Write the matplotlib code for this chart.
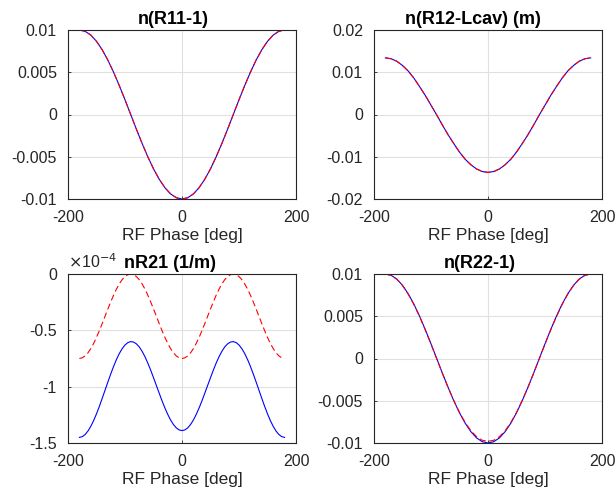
import matplotlib
matplotlib.use("Agg")
import matplotlib.pyplot as plt
from matplotlib.ticker import FuncFormatter

plt.rcParams["font.family"] = ["Liberation Sans", "DejaVu Sans"]
plt.rcParams["axes.unicode_minus"] = False
plt.rcParams["lines.scale_dashes"] = False

# RF phase [deg], sampled every 10 deg
phase = [-180, -170, -160, -150, -140, -130, -120, -110, -100, -90,
         -80, -70, -60, -50, -40, -30, -20, -10, 0,
         10, 20, 30, 40, 50, 60, 70, 80, 90,
         100, 110, 120, 130, 140, 150, 160, 170, 180]

# n(R11-1)
r11_blue = [0.01, 0.00985, 0.0094, 0.00866, 0.00766, 0.00643, 0.005, 0.00342, 0.00174, 0.0,
            -0.00174, -0.00342, -0.005, -0.00643, -0.00766, -0.00866, -0.0094, -0.00985, -0.01,
            -0.00985, -0.0094, -0.00866, -0.00766, -0.00643, -0.005, -0.00342, -0.00174, 0.0,
            0.00174, 0.00342, 0.005, 0.00643, 0.00766, 0.00866, 0.0094, 0.00985, 0.01]
r11_red = [0.01, 0.00985, 0.0094, 0.00866, 0.00766, 0.00643, 0.005, 0.00342, 0.00174, 0.0,
           -0.00174, -0.00342, -0.005, -0.00643, -0.00766, -0.00866, -0.0094, -0.00985, -0.01,
           -0.00985, -0.0094, -0.00866, -0.00766, -0.00643, -0.005, -0.00342, -0.00174, 0.0,
           0.00174, 0.00342, 0.005, 0.00643, 0.00766, 0.00866, 0.0094, 0.00985, 0.01]

# n(R12-Lcav) (m)
r12_blue = [0.0134, 0.0132, 0.0126, 0.0116, 0.0103, 0.0086, 0.0066, 0.0045, 0.0022, -0.0001,
            -0.0025, -0.0048, -0.0069, -0.0089, -0.0106, -0.0119, -0.0129, -0.0135, -0.0137,
            -0.0135, -0.0129, -0.0119, -0.0106, -0.0089, -0.0069, -0.0048, -0.0025, -0.0001,
            0.0022, 0.0045, 0.0066, 0.0086, 0.0103, 0.0116, 0.0126, 0.0132, 0.0134]
r12_red = [0.0134, 0.0132, 0.0126, 0.0116, 0.0103, 0.0086, 0.0066, 0.0045, 0.0022, -0.0001,
           -0.0025, -0.0048, -0.0069, -0.0089, -0.0106, -0.0119, -0.0129, -0.0135, -0.0137,
           -0.0135, -0.0129, -0.0119, -0.0106, -0.0089, -0.0069, -0.0048, -0.0025, -0.0001,
           0.0022, 0.0045, 0.0066, 0.0086, 0.0103, 0.0116, 0.0126, 0.0132, 0.0134]

# nR21 (1/m), in units of 1e-4, sampled every 5 deg
phase_r21 = list(range(-180, 181, 5))
r21_blue_e4 = [-1.45, -1.444, -1.425, -1.394, -1.352, -1.301, -1.241, -1.175, -1.104, -1.031,
               -0.958, -0.887, -0.82, -0.759, -0.706, -0.663, -0.63, -0.609, -0.6,
               -0.604, -0.62, -0.647, -0.686, -0.734, -0.79, -0.853, -0.92, -0.989,
               -1.058, -1.126, -1.189, -1.246, -1.296, -1.336, -1.366, -1.384, -1.39,
               -1.384, -1.366, -1.336, -1.296, -1.246, -1.189, -1.126, -1.058,
               -0.989, -0.92, -0.853, -0.79, -0.734, -0.686, -0.647, -0.62, -0.604,
               -0.6, -0.609, -0.63, -0.663, -0.706, -0.759, -0.82, -0.887, -0.958,
               -1.031, -1.104, -1.175, -1.241, -1.301, -1.352, -1.394, -1.425, -1.444, -1.45]
r21_red_e4 = [-0.75, -0.744, -0.727, -0.7, -0.662, -0.616, -0.5625, -0.503, -0.44, -0.375,
              -0.31, -0.247, -0.1875, -0.134, -0.088, -0.05, -0.023, -0.006, 0.0,
              -0.006, -0.023, -0.05, -0.088, -0.134, -0.1875, -0.247, -0.31, -0.375,
              -0.44, -0.503, -0.5625, -0.616, -0.662, -0.7, -0.727, -0.744, -0.75,
              -0.744, -0.727, -0.7, -0.662, -0.616, -0.5625, -0.503, -0.44,
              -0.375, -0.31, -0.247, -0.1875, -0.134, -0.088, -0.05, -0.023, -0.006,
              0.0, -0.006, -0.023, -0.05, -0.088, -0.134, -0.1875, -0.247, -0.31,
              -0.375, -0.44, -0.503, -0.5625, -0.616, -0.662, -0.7, -0.727, -0.744, -0.75]

# n(R22-1)
r22_blue = [0.01, 0.00985, 0.0094, 0.00866, 0.00766, 0.00643, 0.005, 0.00342, 0.00174, 0.0,
            -0.00174, -0.00342, -0.005, -0.00643, -0.00766, -0.00866, -0.0094, -0.00985, -0.01,
            -0.00985, -0.0094, -0.00866, -0.00766, -0.00643, -0.005, -0.00342, -0.00174, 0.0,
            0.00174, 0.00342, 0.005, 0.00643, 0.00766, 0.00866, 0.0094, 0.00985, 0.01]
r22_red = [0.01, 0.00984, 0.00938, 0.00863, 0.00762, 0.00638, 0.00495, 0.00337, 0.0017, -0.00003,
           -0.00176, -0.00342, -0.00497, -0.00638, -0.00758, -0.00855, -0.00925, -0.00968, -0.0098,
           -0.00968, -0.00925, -0.00855, -0.00758, -0.00638, -0.00497, -0.00342, -0.00176, -0.00003,
           0.0017, 0.00337, 0.00495, 0.00638, 0.00762, 0.00863, 0.00938, 0.00984, 0.01]

titles = ["n(R11-1)", "n(R12-Lcav) (m)", "nR21 (1/m)", "n(R22-1)"]
yticks = [[-0.01, -0.005, 0, 0.005, 0.01],
          [-0.02, -0.01, 0, 0.01, 0.02],
          [-1.5e-4, -1e-4, -0.5e-4, 0],
          [-0.01, -0.005, 0, 0.005, 0.01]]
xs = [phase, phase, phase_r21, phase]
blues = [r11_blue, r12_blue, [v * 1e-4 for v in r21_blue_e4], r22_blue]
reds = [r11_red, r12_red, [v * 1e-4 for v in r21_red_e4], r22_red]

# ------------------------------------------------------------------------------------------------------------------
fig = plt.figure(figsize=(6.15, 4.96), dpi=100)
W, H = 615, 496
boxes = [(68, 30), (374, 30), (68, 274), (374, 274)]  # left, top in pixels
title_x = [0.46, 0.435, 0.447, 0.465]
axcol = "#262626"

for i in range(4):
    l, t = boxes[i]
    ax = fig.add_axes([l / W, 1 - (t + 169) / H, 228 / W, 169 / H])
    ax.plot(xs[i], blues[i], color="#0000ff", lw=0.8)
    ax.plot(xs[i], reds[i], color="#ff0000", lw=0.8, linestyle="--", dashes=(4.5, 2.5))
    ax.set_xlim(-200, 200)
    ax.set_xticks([-200, 0, 200])
    ax.set_yticks(yticks[i])
    ax.set_ylim(yticks[i][0], yticks[i][-1])
    ax.grid(True, color="#e0e0e0", lw=0.8)
    ax.set_axisbelow(True)
    ax.tick_params(direction="in", length=2, labelsize=11.5, colors=axcol, width=0.6)
    ax.tick_params(axis="x", pad=8)
    ax.tick_params(axis="y", pad=8)
    for s in ax.spines.values():
        s.set_color(axcol)
        s.set_linewidth(0.8)
    ax.xaxis.set_major_formatter(FuncFormatter(lambda v, p: f"{v:g}"))
    if i == 2:
        ax.yaxis.set_major_formatter(FuncFormatter(lambda v, p: f"{v / 1e-4:g}"))
        ax.text(0.0, 1.02, r"$\times$10$^{-4}$", transform=ax.transAxes, fontsize=11.5,
                color=axcol, ha="left", va="bottom")
    else:
        ax.yaxis.set_major_formatter(FuncFormatter(lambda v, p: f"{v:g}"))
    ax.set_title(titles[i], fontsize=13, fontweight="bold", x=title_x[i], pad=4, color="black")
    ax.set_xlabel("RF Phase [deg]", fontsize=12.5, color=axcol, labelpad=2)

plt.savefig("out.png", dpi=100)
